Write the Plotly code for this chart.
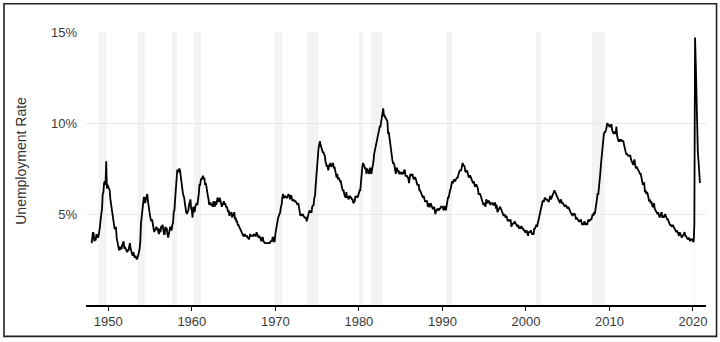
import plotly.graph_objects as go

years = list(range(1948, 2021))
unrate_by_year = {
    1948: [3.4, 3.8, 4.0, 3.9, 3.5, 3.6, 3.6, 3.9, 3.8, 3.7, 3.8, 4.0],
    1949: [4.3, 4.7, 5.0, 5.3, 6.1, 6.2, 6.7, 6.8, 6.6, 7.9, 6.4, 6.6],
    1950: [6.5, 6.4, 6.3, 5.8, 5.5, 5.4, 5.0, 4.5, 4.4, 4.2, 4.2, 4.3],
    1951: [3.7, 3.4, 3.4, 3.1, 3.0, 3.2, 3.1, 3.1, 3.3, 3.5, 3.5, 3.1],
    1952: [3.2, 3.1, 2.9, 2.9, 3.0, 3.0, 3.2, 3.4, 3.1, 3.0, 2.8, 2.7],
    1953: [2.9, 2.6, 2.6, 2.7, 2.5, 2.5, 2.6, 2.7, 2.9, 3.1, 3.5, 4.5],
    1954: [4.9, 5.2, 5.7, 5.9, 5.9, 5.6, 5.8, 6.0, 6.1, 5.7, 5.3, 5.0],
    1955: [4.9, 4.7, 4.6, 4.7, 4.3, 4.2, 4.0, 4.2, 4.1, 4.3, 4.2, 4.2],
    1956: [4.0, 3.9, 4.2, 4.0, 4.3, 4.3, 4.4, 4.1, 3.9, 3.9, 4.3, 4.2],
    1957: [4.2, 3.9, 3.7, 3.9, 4.1, 4.3, 4.2, 4.1, 4.4, 4.5, 5.1, 5.2],
    1958: [5.8, 6.4, 6.7, 7.4, 7.4, 7.3, 7.5, 7.4, 7.1, 6.7, 6.2, 6.2],
    1959: [6.0, 5.9, 5.6, 5.2, 5.1, 5.0, 5.1, 5.2, 5.5, 5.7, 5.8, 5.3],
    1960: [5.2, 4.8, 5.4, 5.2, 5.1, 5.4, 5.5, 5.6, 5.5, 6.1, 6.1, 6.6],
    1961: [6.6, 6.9, 6.9, 7.0, 7.1, 6.9, 7.0, 6.6, 6.7, 6.5, 6.1, 6.0],
    1962: [5.8, 5.5, 5.6, 5.6, 5.5, 5.5, 5.4, 5.7, 5.6, 5.4, 5.7, 5.5],
    1963: [5.7, 5.9, 5.7, 5.7, 5.9, 5.6, 5.6, 5.4, 5.5, 5.5, 5.7, 5.5],
    1964: [5.6, 5.4, 5.4, 5.3, 5.1, 5.2, 4.9, 5.0, 5.1, 5.1, 4.8, 5.0],
    1965: [4.9, 5.1, 4.7, 4.8, 4.6, 4.6, 4.4, 4.4, 4.3, 4.2, 4.1, 4.0],
    1966: [4.0, 3.8, 3.8, 3.8, 3.9, 3.8, 3.8, 3.8, 3.7, 3.7, 3.6, 3.8],
    1967: [3.9, 3.8, 3.8, 3.8, 3.8, 3.9, 3.8, 3.8, 3.8, 4.0, 3.9, 3.8],
    1968: [3.7, 3.8, 3.7, 3.5, 3.5, 3.7, 3.7, 3.5, 3.4, 3.4, 3.4, 3.4],
    1969: [3.4, 3.4, 3.4, 3.4, 3.4, 3.5, 3.5, 3.5, 3.7, 3.7, 3.5, 3.5],
    1970: [3.9, 4.2, 4.4, 4.6, 4.8, 4.9, 5.0, 5.1, 5.4, 5.5, 5.9, 6.1],
    1971: [5.9, 5.9, 6.0, 5.9, 5.9, 5.9, 6.0, 6.1, 6.0, 5.8, 6.0, 6.0],
    1972: [5.8, 5.7, 5.8, 5.7, 5.7, 5.7, 5.6, 5.6, 5.5, 5.6, 5.3, 5.2],
    1973: [4.9, 5.0, 4.9, 5.0, 4.9, 4.9, 4.8, 4.8, 4.8, 4.6, 4.8, 4.9],
    1974: [5.1, 5.2, 5.1, 5.1, 5.1, 5.4, 5.5, 5.5, 5.9, 6.0, 6.6, 7.2],
    1975: [8.1, 8.1, 8.6, 8.8, 9.0, 8.8, 8.6, 8.4, 8.4, 8.4, 8.3, 8.2],
    1976: [7.9, 7.7, 7.6, 7.7, 7.4, 7.6, 7.8, 7.8, 7.6, 7.7, 7.8, 7.8],
    1977: [7.5, 7.6, 7.4, 7.2, 7.0, 7.2, 6.9, 7.0, 6.8, 6.8, 6.8, 6.4],
    1978: [6.4, 6.3, 6.3, 6.1, 6.0, 5.9, 6.2, 5.9, 6.0, 5.8, 5.9, 6.0],
    1979: [5.9, 5.9, 5.8, 5.8, 5.6, 5.7, 5.7, 6.0, 5.9, 6.0, 5.9, 6.0],
    1980: [6.3, 6.3, 6.3, 6.9, 7.5, 7.6, 7.8, 7.7, 7.5, 7.5, 7.5, 7.2],
    1981: [7.5, 7.4, 7.4, 7.2, 7.5, 7.5, 7.2, 7.4, 7.6, 7.9, 8.3, 8.5],
    1982: [8.6, 8.9, 9.0, 9.3, 9.4, 9.6, 9.8, 9.8, 10.1, 10.4, 10.8, 10.8],
    1983: [10.4, 10.4, 10.3, 10.2, 10.1, 10.1, 9.4, 9.5, 9.2, 8.8, 8.5, 8.3],
    1984: [8.0, 7.8, 7.8, 7.7, 7.4, 7.2, 7.5, 7.5, 7.3, 7.4, 7.2, 7.3],
    1985: [7.3, 7.2, 7.2, 7.3, 7.2, 7.4, 7.4, 7.1, 7.1, 7.1, 7.0, 7.0],
    1986: [6.7, 7.2, 7.2, 7.1, 7.2, 7.2, 7.0, 6.9, 7.0, 7.0, 6.9, 6.6],
    1987: [6.6, 6.6, 6.6, 6.3, 6.3, 6.2, 6.1, 6.0, 5.9, 6.0, 5.8, 5.7],
    1988: [5.7, 5.7, 5.7, 5.4, 5.6, 5.4, 5.4, 5.6, 5.4, 5.4, 5.3, 5.3],
    1989: [5.4, 5.2, 5.0, 5.2, 5.2, 5.3, 5.2, 5.2, 5.3, 5.3, 5.4, 5.4],
    1990: [5.4, 5.3, 5.2, 5.4, 5.4, 5.2, 5.5, 5.7, 5.9, 5.9, 6.2, 6.3],
    1991: [6.4, 6.6, 6.8, 6.7, 6.9, 6.9, 6.8, 6.9, 6.9, 7.0, 7.0, 7.3],
    1992: [7.3, 7.4, 7.4, 7.4, 7.6, 7.8, 7.7, 7.6, 7.6, 7.3, 7.4, 7.4],
    1993: [7.3, 7.1, 7.0, 7.1, 7.1, 7.0, 6.9, 6.8, 6.7, 6.8, 6.6, 6.5],
    1994: [6.6, 6.6, 6.5, 6.4, 6.1, 6.1, 6.1, 6.0, 5.9, 5.8, 5.6, 5.5],
    1995: [5.6, 5.4, 5.4, 5.8, 5.6, 5.6, 5.7, 5.7, 5.6, 5.5, 5.6, 5.6],
    1996: [5.6, 5.5, 5.5, 5.6, 5.6, 5.3, 5.5, 5.1, 5.2, 5.2, 5.4, 5.4],
    1997: [5.3, 5.2, 5.2, 5.1, 4.9, 5.0, 4.9, 4.8, 4.9, 4.7, 4.6, 4.7],
    1998: [4.6, 4.6, 4.7, 4.3, 4.4, 4.5, 4.5, 4.5, 4.6, 4.5, 4.4, 4.4],
    1999: [4.3, 4.4, 4.2, 4.3, 4.2, 4.3, 4.3, 4.2, 4.2, 4.1, 4.1, 4.0],
    2000: [4.0, 4.1, 4.0, 3.8, 4.0, 4.0, 4.0, 4.1, 3.9, 3.9, 3.9, 3.9],
    2001: [4.2, 4.2, 4.3, 4.4, 4.3, 4.5, 4.6, 4.9, 5.0, 5.3, 5.5, 5.7],
    2002: [5.7, 5.7, 5.7, 5.9, 5.8, 5.8, 5.8, 5.7, 5.7, 5.7, 5.9, 6.0],
    2003: [5.8, 5.9, 5.9, 6.0, 6.1, 6.3, 6.2, 6.1, 6.1, 6.0, 5.8, 5.7],
    2004: [5.7, 5.6, 5.8, 5.6, 5.6, 5.6, 5.5, 5.4, 5.4, 5.5, 5.4, 5.4],
    2005: [5.3, 5.4, 5.2, 5.2, 5.1, 5.0, 5.0, 4.9, 5.0, 5.0, 5.0, 4.9],
    2006: [4.7, 4.8, 4.7, 4.7, 4.6, 4.6, 4.7, 4.7, 4.5, 4.4, 4.5, 4.4],
    2007: [4.6, 4.5, 4.4, 4.5, 4.4, 4.6, 4.7, 4.6, 4.7, 4.7, 4.7, 5.0],
    2008: [5.0, 4.9, 5.1, 5.0, 5.4, 5.6, 5.8, 6.1, 6.1, 6.5, 6.8, 7.3],
    2009: [7.8, 8.3, 8.7, 9.0, 9.4, 9.5, 9.5, 9.6, 9.8, 10.0, 9.9, 9.9],
    2010: [9.8, 9.8, 9.9, 9.9, 9.6, 9.4, 9.4, 9.5, 9.5, 9.4, 9.8, 9.3],
    2011: [9.1, 9.0, 9.0, 9.1, 9.0, 9.1, 9.0, 9.0, 9.0, 8.8, 8.6, 8.5],
    2012: [8.3, 8.3, 8.2, 8.2, 8.2, 8.2, 8.2, 8.0, 7.8, 7.8, 7.7, 7.9],
    2013: [8.0, 7.7, 7.5, 7.6, 7.5, 7.5, 7.3, 7.2, 7.2, 7.2, 6.9, 6.7],
    2014: [6.6, 6.7, 6.7, 6.2, 6.3, 6.1, 6.2, 6.1, 5.9, 5.7, 5.8, 5.6],
    2015: [5.7, 5.5, 5.4, 5.4, 5.6, 5.3, 5.2, 5.1, 5.0, 5.0, 5.1, 5.0],
    2016: [4.8, 4.9, 5.0, 5.1, 4.8, 4.9, 4.8, 4.9, 5.0, 4.9, 4.7, 4.7],
    2017: [4.7, 4.6, 4.4, 4.4, 4.4, 4.3, 4.3, 4.4, 4.3, 4.2, 4.2, 4.1],
    2018: [4.0, 4.1, 4.0, 4.0, 3.8, 4.0, 3.8, 3.8, 3.7, 3.8, 3.8, 3.9],
    2019: [4.0, 3.8, 3.8, 3.7, 3.6, 3.6, 3.7, 3.6, 3.5, 3.6, 3.6, 3.6],
    2020: [3.5, 3.5, 4.4, 14.7, 13.3, 11.1, 10.2, 8.4, 7.9, 6.9, 6.7],
}

recession_start = ["1948-11", "1953-07", "1957-08", "1960-04", "1969-12", "1973-11",
                   "1980-01", "1981-07", "1990-07", "2001-03", "2007-12", "2020-02"]
recession_end = ["1949-10", "1954-05", "1958-04", "1961-02", "1970-11", "1975-03",
                 "1980-07", "1982-11", "1991-03", "2001-11", "2009-06", "2020-04"]

x_ticks = [1950, 1960, 1970, 1980, 1990, 2000, 2010, 2020]
y_ticks = [5, 10, 15]
y_tick_labels = ["5%", "10%", "15%"]


def ym_to_dec(s):
    y, m = s.split("-")
    return int(y) + (int(m) - 1) / 12.0


xs, ys = [], []
for yr in years:
    for i, v in enumerate(unrate_by_year[yr]):
        xs.append(yr + i / 12.0)
        ys.append(v)

fig = go.Figure()
fig.add_trace(go.Scatter(x=xs, y=ys, mode="lines",
                         line=dict(color="black", width=1.8),
                         hoverinfo="skip", showlegend=False))

shapes = []
for s, e in zip(recession_start, recession_end):
    shapes.append(dict(type="rect", xref="x", yref="y",
                       x0=ym_to_dec(s), x1=ym_to_dec(e), y0=0, y1=15,
                       fillcolor="#f3f3f3", line=dict(width=0), layer="below"))
# outer border
shapes.append(dict(type="rect", xref="paper", yref="paper",
                   x0=-0.1323, x1=1.017, y0=-0.115, y1=1.1037,
                   line=dict(color="#222222", width=1.6), fillcolor="rgba(0,0,0,0)",
                   layer="above"))

font_family = "Liberation Sans, Arial, sans-serif"

fig.update_layout(
    width=720, height=342,
    margin=dict(l=86, r=14, t=32, b=37),
    paper_bgcolor="white", plot_bgcolor="white",
    shapes=shapes,
    font=dict(family=font_family, size=13, color="#3a3a3a"),
    xaxis=dict(range=[1947.33, 2021.56], tickvals=x_ticks,
               ticktext=[str(t) for t in x_ticks],
               showgrid=False, zeroline=False,
               showline=True, linecolor="black", linewidth=1.5,
               ticks="outside", ticklen=4, tickwidth=1.2, tickcolor="black",
               tickfont=dict(size=13, color="#3a3a3a")),
    yaxis=dict(range=[0, 15], tickvals=y_ticks, ticktext=y_tick_labels,
               showgrid=True, gridcolor="#e8e8e8", gridwidth=1,
               zeroline=False, showline=False, ticks="",
               ticklabelstandoff=8,
               tickfont=dict(size=13, color="#3a3a3a")),
    annotations=[dict(text="Unemployment Rate", xref="paper", yref="paper",
                      x=-0.105, y=0.528, textangle=-90, showarrow=False,
                      xanchor="center", yanchor="middle",
                      font=dict(size=14, color="#333333", family=font_family))],
)

fig.write_html("out.html")
